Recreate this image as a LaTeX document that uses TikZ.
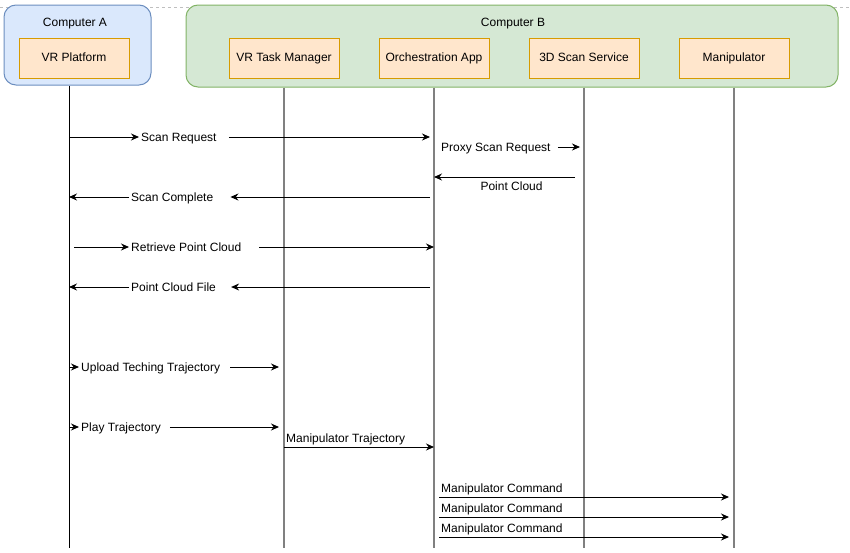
\documentclass[tikz,border=0pt]{standalone}
\usepackage{fontspec}
\setmainfont{Liberation Sans}
\usepackage{tikz}
\usetikzlibrary{arrows.meta}
\usetikzlibrary{calc}

\definecolor{blueFill}{HTML}{DAE8FC}
\definecolor{blueLine}{HTML}{6C8EBF}
\definecolor{greenFill}{HTML}{D5E8D4}
\definecolor{greenLine}{HTML}{82B366}
\definecolor{orangeFill}{HTML}{FFE6CC}
\definecolor{orangeLine}{HTML}{D79B00}
\definecolor{lifeGray}{HTML}{808080}

\tikzset{
    computer/.style={draw, rounded corners=12pt, line width=1pt},
    component/.style={draw=orangeLine, fill=orangeFill, line width=1pt,
        minimum width=110pt, minimum height=40pt, text height=9pt, text depth=2.5pt},
    lbl/.style={inner xsep=2pt, inner ysep=2pt, text height=9pt, text depth=2.5pt},
    msg/.style={-{Stealth[length=8pt,width=7pt]}, line width=1pt},
    lifeline/.style={line width=1pt},
    grayline/.style={draw=lifeGray, line width=2pt},
}

\begin{document}
\begin{tikzpicture}[x=1pt, y=-1pt, font=\fontsize{12}{14}\selectfont]
            \useasboundingbox (0, 0) rectangle (850, 552);

            \coordinate (dashL) at (0, 7);
            \coordinate (dashR) at (850, 7);
            \draw[black!25, dash pattern=on 3pt off 3pt] (dashL) -- (dashR);

            % computers and their components
            \node[computer, draw=blueLine, fill=blueFill, minimum width=147pt, minimum height=80pt] (compA) at (77.5, 45) {};
            \node[computer, draw=greenLine, fill=greenFill, minimum width=652pt, minimum height=82pt] (compB) at (512, 46) {};
            \node[lbl] (compAText) at (75, 23) {Computer A};
            \node[lbl] (compBText) at (513, 23) {Computer B};

            \node[component] (vr) at (74, 58) {VR Platform};
            \node[component] (tm) at (284, 58) {VR Task Manager};
            \node[component] (oa) at (434, 58) {Orchestration App};
            \node[component] (ss) at (584, 58) {3D Scan Service};
            \node[component] (mp) at (734, 58) {Manipulator};

            % lifelines
            \coordinate (vrEnd) at (69, 548);
            \draw[lifeline] (vrEnd |- compA.south) -- (vrEnd);
            \foreach \c in {tm, oa, ss, mp}
                \draw[grayline] (\c |- compB.south) -- (\c |- vrEnd);

            % messages
            \node[lbl, anchor=west] (sreq) at (139, 138) {Scan Request};
            \draw[msg] (vrEnd |- 0,137) -- (sreq.west |- 0,137);
            \draw[msg, shorten <=10pt, shorten >=4pt] (sreq.east |- 0,137) -- (oa |- 0,137);

            \node[lbl, anchor=west] (proxy) at (439, 148) {Proxy Scan Request};
            \draw[msg, shorten <=5pt, shorten >=4pt] (proxy.east |- 0,147) -- (ss |- 0,147);

            \coordinate (pcStart) at (575, 177);
            \draw[msg] (pcStart) -- (oa |- pcStart) node[lbl, pos=0.45, below=2pt] (pc) {Point Cloud};

            \node[lbl, anchor=west] (scomp) at (129, 198) {Scan Complete};
            \draw[msg, shorten <=4pt, shorten >=15pt] (oa |- 0,197) -- (scomp.east |- 0,197);
            \draw[msg] (scomp.west |- 0,197) -- (vrEnd |- 0,197);

            \node[lbl, anchor=west] (rpc) at (129, 248) {Retrieve Point Cloud};
            \draw[msg, shorten <=5pt] (vrEnd |- 0,247) -- (rpc.west |- 0,247);
            \draw[msg, shorten <=16pt] (rpc.east |- 0,247) -- (oa |- 0,247);

            \node[lbl, anchor=west] (pcf) at (129, 288) {Point Cloud File};
            \draw[msg, shorten <=4pt, shorten >=13pt] (oa |- 0,287) -- (pcf.east |- 0,287);
            \draw[msg] (pcf.west |- 0,287) -- (vrEnd |- 0,287);

            \node[lbl, anchor=west] (upload) at (79, 368) {Upload Teching Trajectory};
            \draw[msg] (vrEnd |- 0,367) -- (upload.west |- 0,367);
            \draw[msg, shorten <=8pt, shorten >=5pt] (upload.east |- 0,367) -- (tm |- 0,367);

            \node[lbl, anchor=west] (play) at (79, 428) {Play Trajectory};
            \draw[msg] (vrEnd |- 0,427) -- (play.west |- 0,427);
            \draw[msg, shorten <=7pt, shorten >=5pt] (play.east |- 0,427) -- (tm |- 0,427);

            \coordinate (mt) at (284, 447);
            \draw[msg] (mt) -- (oa |- mt);
            \node[lbl, anchor=south west] (mtraj) at (mt) {Manipulator Trajectory};

            \foreach \i/\y in {1/497, 2/517, 3/537} {
                \coordinate (mc\i) at (439, \y);
                \draw[msg, shorten >=5pt] (mc\i) -- (mp |- mc\i);
                \node[lbl, anchor=south west] (mcmd\i) at (mc\i) {Manipulator Command};
            }
\end{tikzpicture}
\end{document}
